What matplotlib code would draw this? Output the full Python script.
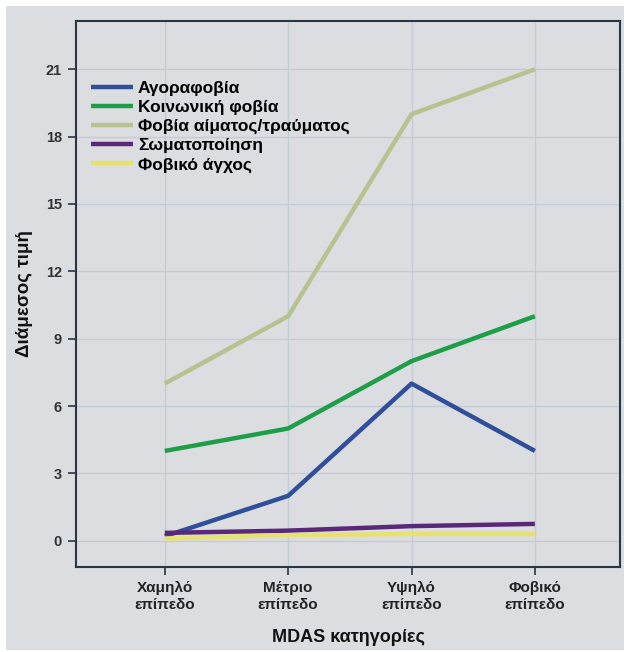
import matplotlib.pyplot as plt
from matplotlib.patches import Rectangle

categories = ["Χαμηλό\nεπίπεδο", "Μέτριο\nεπίπεδο", "Υψηλό\nεπίπεδο", "Φοβικό\nεπίπεδο"]
agoraphobia = [0.2, 2, 7, 4]
social = [4, 5, 8, 10]
blood_injury = [7, 10, 19, 21]
somatization = [0.35, 0.45, 0.65, 0.75]
phobic_anxiety = [0.1, 0.25, 0.3, 0.3]

series = [
    ("Αγοραφοβία", agoraphobia, "#2f4f9a"),
    ("Κοινωνική φοβία", social, "#1f9e48"),
    ("Φοβία αίματος/τραύματος", blood_injury, "#b8c290"),
    ("Σωματοποίηση", somatization, "#5a2878"),
    ("Φοβικό άγχος", phobic_anxiety, "#e6e270"),
]

bg = "#dcdde0"
plt.rcParams["font.family"] = ["Liberation Sans", "DejaVu Sans"]

fig = plt.figure(figsize=(6.24, 6.52), dpi=100, facecolor="white")
# gray panel behind everything
fig.add_artist(Rectangle((6 / 624, 0.003), 1, 1 - 6 / 652 - 0.003,
                         transform=fig.transFigure, facecolor=bg,
                         edgecolor="none", zorder=-10))

ax = fig.add_axes([76 / 624, 85 / 652, 544 / 624, 546 / 652])
ax.set_zorder(1)
ax.set_facecolor(bg)

x = list(range(len(categories)))
for name, vals, col in series:
    ax.plot(x, vals, color=col, linewidth=3.2, label=name, solid_capstyle="butt")

ax.set_xlim(-0.72, 3.69)
ax.set_ylim(-1.17, 23.15)
ax.set_yticks(range(0, 22, 3))
ax.set_xticks(x)
ax.set_xticklabels(categories, fontsize=11, fontweight="bold", color="#222222",
                   linespacing=1.3)
for t in ax.get_yticklabels():
    t.set_fontsize(10.5)
    t.set_fontweight("bold")
    t.set_color("#333333")

ax.grid(True, color="#c3ccd6", linewidth=1)
ax.set_axisbelow(True)
ax.tick_params(axis="both", direction="out", length=6, width=1.2, color="#2a3644",
               pad=4)
for spine in ax.spines.values():
    spine.set_color("#2a3644")
    spine.set_linewidth(1.5)

ax.set_ylabel("Διάμεσος τιμή", fontsize=13.5, fontweight="bold", color="#111111",
              labelpad=9)
ax.set_xlabel("MDAS κατηγορίες", fontsize=13, fontweight="bold", color="#111111",
              labelpad=12)

leg = ax.legend(loc="upper left", bbox_to_anchor=(0.015, 0.903), frameon=False,
                prop={"size": 12.5, "weight": "bold"}, handlelength=2.4,
                handletextpad=0.3, labelspacing=0.22, borderaxespad=0)

fig.savefig("out.png", dpi=100, facecolor="white")
